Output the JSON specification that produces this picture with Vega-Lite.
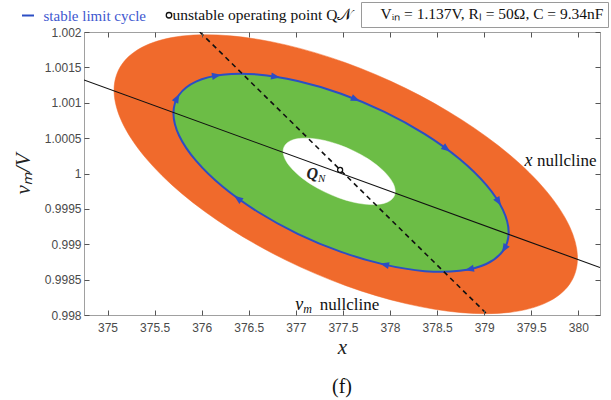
{
  "$schema": "https://vega.github.io/schema/vega-lite/v6.json",
  "width": 516,
  "height": 283,
  "autosize": "none",
  "padding": {"left": 84, "top": 32, "right": 11, "bottom": 85},
  "background": "white",
  "title": {"text": "(f)", "orient": "bottom", "font": "Liberation Serif", "fontSize": 20, "fontWeight": "normal", "color": "#111111", "offset": 20, "anchor": "middle"},
  "config": {"view": {"stroke": "#a0a0a0", "strokeWidth": 1}},
  "datasets": {
    "orange": [
      {"t": 0, "x": 379.991, "y": 0.998803}, {"t": 15, "x": 379.907, "y": 0.999251}, {"t": 30, "x": 379.661, "y": 0.99975},
      {"t": 45, "x": 379.27, "y": 1.000265}, {"t": 60, "x": 378.76, "y": 1.00076}, {"t": 75, "x": 378.167, "y": 1.001204},
      {"t": 90, "x": 377.53, "y": 1.001565}, {"t": 105, "x": 376.893, "y": 1.001818}, {"t": 120, "x": 376.3, "y": 1.001947},
      {"t": 135, "x": 375.79, "y": 1.001943}, {"t": 150, "x": 375.399, "y": 1.001805}, {"t": 165, "x": 375.153, "y": 1.001544},
      {"t": 180, "x": 375.069, "y": 1.001177}, {"t": 195, "x": 375.153, "y": 1.000729}, {"t": 210, "x": 375.399, "y": 1.00023},
      {"t": 225, "x": 375.79, "y": 0.999715}, {"t": 240, "x": 376.3, "y": 0.99922}, {"t": 255, "x": 376.893, "y": 0.998776},
      {"t": 270, "x": 377.53, "y": 0.998415}, {"t": 285, "x": 378.167, "y": 0.998162}, {"t": 300, "x": 378.76, "y": 0.998033},
      {"t": 315, "x": 379.27, "y": 0.998037}, {"t": 330, "x": 379.661, "y": 0.998175}, {"t": 345, "x": 379.907, "y": 0.998436}
    ],
    "green": [
      {"t": 0, "x": 379.26, "y": 0.999167}, {"t": 15, "x": 379.199, "y": 0.999486}, {"t": 30, "x": 379.022, "y": 0.999839},
      {"t": 45, "x": 378.739, "y": 1.000205}, {"t": 60, "x": 378.37, "y": 1.000557}, {"t": 75, "x": 377.941, "y": 1.000872},
      {"t": 90, "x": 377.48, "y": 1.001128}, {"t": 105, "x": 377.019, "y": 1.001308}, {"t": 120, "x": 376.59, "y": 1.0014},
      {"t": 135, "x": 376.221, "y": 1.001396}, {"t": 150, "x": 375.939, "y": 1.001299}, {"t": 165, "x": 375.761, "y": 1.001113},
      {"t": 180, "x": 375.7, "y": 1.000853}, {"t": 195, "x": 375.761, "y": 1.000534}, {"t": 210, "x": 375.939, "y": 1.000181},
      {"t": 225, "x": 376.221, "y": 0.999815}, {"t": 240, "x": 376.59, "y": 0.999463}, {"t": 255, "x": 377.019, "y": 0.999148},
      {"t": 270, "x": 377.48, "y": 0.998892}, {"t": 285, "x": 377.941, "y": 0.998712}, {"t": 300, "x": 378.37, "y": 0.99862},
      {"t": 315, "x": 378.739, "y": 0.998624}, {"t": 330, "x": 379.022, "y": 0.998721}, {"t": 345, "x": 379.199, "y": 0.998907}
    ],
    "white": [
      {"t": 0, "x": 378.055, "y": 0.999747}, {"t": 15, "x": 378.035, "y": 0.999854}, {"t": 30, "x": 377.975, "y": 0.999973},
      {"t": 45, "x": 377.881, "y": 1.000095}, {"t": 60, "x": 377.758, "y": 1.000214}, {"t": 75, "x": 377.614, "y": 1.000319},
      {"t": 90, "x": 377.46, "y": 1.000405}, {"t": 105, "x": 377.306, "y": 1.000466}, {"t": 120, "x": 377.163, "y": 1.000496},
      {"t": 135, "x": 377.039, "y": 1.000495}, {"t": 150, "x": 376.945, "y": 1.000463}, {"t": 165, "x": 376.885, "y": 1.0004},
      {"t": 180, "x": 376.865, "y": 1.000313}, {"t": 195, "x": 376.885, "y": 1.000206}, {"t": 210, "x": 376.945, "y": 1.000087},
      {"t": 225, "x": 377.039, "y": 0.999965}, {"t": 240, "x": 377.163, "y": 0.999846}, {"t": 255, "x": 377.306, "y": 0.999741},
      {"t": 270, "x": 377.46, "y": 0.999655}, {"t": 285, "x": 377.614, "y": 0.999594}, {"t": 300, "x": 377.758, "y": 0.999564},
      {"t": 315, "x": 377.881, "y": 0.999565}, {"t": 330, "x": 377.975, "y": 0.999597}, {"t": 345, "x": 378.035, "y": 0.99966}
    ],
    "arrows": [
      {"x": 375.739, "y": 1.001067, "dir": -62}, {"x": 376.157, "y": 1.001384, "dir": -10}, {"x": 376.785, "y": 1.001368, "dir": 9},
      {"x": 377.635, "y": 1.00105, "dir": 22}, {"x": 378.6, "y": 1.000349, "dir": 37}, {"x": 379.153, "y": 0.999601, "dir": 59},
      {"x": 379.214, "y": 0.998938, "dir": 121}, {"x": 378.843, "y": 0.998646, "dir": 168}, {"x": 377.941, "y": 0.998712, "dir": -167},
      {"x": 376.384, "y": 0.999648, "dir": -144}
    ],
    "xnull": [{"x": 374.75, "y": 1.001322}, {"x": 380.23, "y": 0.998671}],
    "vnull": [{"x": 375.98, "y": 1.002}, {"x": 379.04, "y": 0.998}],
    "qn": [{"x": 377.47, "y": 1.00005}],
    "labels": [
      {"name": "xnull", "x": 380.193, "y": 1.000177},
      {"name": "vnull", "x": 377.886, "y": 0.998146}
    ]
  },
  "encoding": {
    "x": {"field": "x", "type": "quantitative", "scale": {"domain": [374.75, 380.23], "nice": false, "zero": false}, "axis": null},
    "y": {"field": "y", "type": "quantitative", "scale": {"domain": [0.998, 1.002], "nice": false, "zero": false}, "axis": null}
  },
  "layer": [
    {
      "data": {"name": "orange"},
      "mark": {"type": "line", "interpolate": "cardinal-closed", "fill": "#f06a2c", "stroke": "#f06a2c", "strokeWidth": 0.5, "clip": true},
      "encoding": {
        "order": {"field": "t", "type": "quantitative"},
        "x": {"field": "x", "type": "quantitative", "scale": {"domain": [374.75, 380.23], "nice": false, "zero": false},
          "axis": {"orient": "bottom", "zindex": 1, "offset": -5, "values": [375, 375.5, 376, 376.5, 377, 377.5, 378, 378.5, 379, 379.5, 380], "format": "~f", "domain": false, "grid": false, "ticks": true, "tickSize": 5, "tickWidth": 1, "tickColor": "#555555", "tickOpacity": 1, "labelFont": "Liberation Sans", "labelFontSize": 12, "labelColor": "#4a4a4a", "labelPadding": 7, "title": "x", "titleFont": "Liberation Serif", "titleFontSize": 21, "titleFontStyle": "italic", "titleFontWeight": "normal", "titleColor": "#222222", "titlePadding": 3}},
        "y": {"field": "y", "type": "quantitative", "scale": {"domain": [0.998, 1.002], "nice": false, "zero": false},
          "axis": {"orient": "left", "zindex": 1, "offset": -5, "values": [0.998, 0.9985, 0.999, 0.9995, 1, 1.0005, 1.001, 1.0015, 1.002], "format": "~f", "domain": false, "grid": false, "ticks": true, "tickSize": 5, "tickWidth": 1, "tickColor": "#555555", "tickOpacity": 1, "labelFont": "Liberation Sans", "labelFontSize": 12, "labelColor": "#4a4a4a", "labelPadding": 3, "title": "vₘ/V", "titleFont": "Liberation Serif", "titleFontSize": 21, "titleFontStyle": "italic", "titleFontWeight": "normal", "titleColor": "#222222", "titlePadding": 11}}
      }
    },
    {
      "data": {"name": "green"},
      "mark": {"type": "line", "interpolate": "cardinal-closed", "fill": "#6cbd46", "stroke": "#6cbd46", "strokeWidth": 0.5},
      "encoding": {"order": {"field": "t", "type": "quantitative"}}
    },
    {
      "data": {"name": "white"},
      "mark": {"type": "line", "interpolate": "cardinal-closed", "fill": "#ffffff", "stroke": "#ffffff", "strokeWidth": 0.5},
      "encoding": {
        "order": {"field": "t", "type": "quantitative"},
        "strokeDash": {"datum": "Vᵢₙ = 1.137V, Rₗ = 50Ω, C = 9.34nF", "type": "nominal", "scale": {"range": [[1, 0]]},
          "legend": {"orient": "none", "legendX": 277, "legendY": -30, "title": null, "symbolSize": 0, "symbolOpacity": 0, "symbolStrokeWidth": 0, "labelOffset": 0, "labelFont": "Liberation Serif", "labelFontSize": 15.5, "labelLimit": 400, "labelColor": "#111111", "strokeColor": "#9a9a9a", "fillColor": "#ffffff", "padding": 4}}
      }
    },
    {
      "data": {"name": "green"},
      "mark": {"type": "line", "interpolate": "cardinal-closed", "strokeWidth": 2},
      "encoding": {
        "order": {"field": "t", "type": "quantitative"},
        "color": {"datum": "stable limit cycle", "type": "nominal",
          "scale": {"domain": ["stable limit cycle", "unstable operating point Q𝒩"], "range": ["#2c4ec4", "#111111"]},
          "legend": {"orient": "none", "direction": "horizontal", "legendX": -68, "legendY": -30, "title": null, "symbolType": "stroke", "symbolSize": 144, "symbolStrokeWidth": 1.5, "labelFont": "Liberation Serif", "labelFontSize": 15, "labelColor": "#111111", "labelOffset": 12, "labelLimit": 300, "columnPadding": 0, "padding": 0,
            "encode": {
              "symbols": {"update": {
                "shape": {"signal": "datum.value === 'stable limit cycle' ? 'stroke' : 'circle'"},
                "size": {"signal": "datum.value === 'stable limit cycle' ? 144 : 30"},
                "x": {"signal": "datum.value === 'stable limit cycle' ? 12 : 23"},
                "y": {"value": 13},
                "fill": {"signal": "datum.value === 'stable limit cycle' ? 'transparent' : '#ffffff'"},
                "stroke": {"signal": "datum.value === 'stable limit cycle' ? '#2c4ec4' : '#111111'"},
                "strokeWidth": {"signal": "datum.value === 'stable limit cycle' ? 2 : 1.3"},
                "opacity": {"value": 1}}},
              "labels": {"update": {
                "font": {"value": "Liberation Serif"},
                "fill": {"signal": "datum.value === 'stable limit cycle' ? '#4058cf' : '#111111'"},
                "fontSize": {"signal": "datum.value === 'stable limit cycle' ? 15 : 15.5"},
                "dx": {"signal": "datum.value === 'stable limit cycle' ? 0 : -1"},
                "y": {"value": 13}}}}}}
      }
    },
    {
      "data": {"name": "arrows"},
      "mark": {"type": "point", "shape": "M-1,-0.8L1,0L-1,0.8Z", "filled": true, "color": "#2c4ec4", "size": 80, "opacity": 1},
      "encoding": {"angle": {"field": "dir", "type": "quantitative", "scale": null}}
    },
    {
      "data": {"name": "xnull"},
      "mark": {"type": "line", "color": "#111111", "strokeWidth": 1.1, "clip": true},
      "encoding": {
        "x": {"field": "x", "type": "quantitative", "scale": {"domain": [374.75, 380.23], "nice": false, "zero": false},
          "axis": {"orient": "top", "zindex": 1, "offset": -5, "values": [375, 375.5, 376, 376.5, 377, 377.5, 378, 378.5, 379, 379.5, 380], "labels": false, "domain": false, "grid": false, "ticks": true, "tickSize": 5, "tickWidth": 1, "tickColor": "#555555", "tickOpacity": 1, "title": null}},
        "y": {"field": "y", "type": "quantitative", "scale": {"domain": [0.998, 1.002], "nice": false, "zero": false},
          "axis": {"orient": "right", "zindex": 1, "offset": -5, "values": [0.998, 0.9985, 0.999, 0.9995, 1, 1.0005, 1.001, 1.0015, 1.002], "labels": false, "domain": false, "grid": false, "ticks": true, "tickSize": 5, "tickWidth": 1, "tickColor": "#555555", "tickOpacity": 1, "title": null}}
      }
    },
    {
      "data": {"name": "vnull"},
      "mark": {"type": "line", "color": "#111111", "strokeWidth": 1.6, "strokeDash": [5, 4], "clip": true},
      "encoding": {}
    },
    {
      "data": {"name": "qn"},
      "mark": {"type": "point", "filled": false, "fill": "#ffffff", "size": 25, "strokeWidth": 1.3, "opacity": 1},
      "encoding": {
        "color": {"datum": "unstable operating point Q𝒩", "type": "nominal"}
      }
    },
    {
      "data": {"name": "qn"},
      "mark": {"type": "text", "text": "Q", "align": "right", "baseline": "middle", "dx": -22, "dy": 4, "font": "Liberation Serif", "fontSize": 16, "fontStyle": "italic", "fontWeight": "bold", "color": "#222222"}
    },
    {
      "data": {"name": "qn"},
      "mark": {"type": "text", "text": "N", "align": "left", "baseline": "middle", "dx": -22, "dy": 9, "font": "Liberation Serif", "fontSize": 11, "fontStyle": "italic", "color": "#222222"}
    },
    {
      "data": {"name": "labels"},
      "transform": [{"filter": "datum.name === 'xnull'"}],
      "mark": {"type": "text", "text": "nullcline", "align": "right", "baseline": "middle", "font": "Liberation Serif", "fontSize": 17, "color": "#111111"}
    },
    {
      "data": {"name": "labels"},
      "transform": [{"filter": "datum.name === 'xnull'"}],
      "mark": {"type": "text", "text": "x", "align": "right", "baseline": "middle", "dx": -64, "font": "Liberation Serif", "fontSize": 18, "fontStyle": "italic", "color": "#111111"}
    },
    {
      "data": {"name": "labels"},
      "transform": [{"filter": "datum.name === 'vnull'"}],
      "mark": {"type": "text", "text": "nullcline", "align": "right", "baseline": "middle", "font": "Liberation Serif", "fontSize": 17, "color": "#111111"}
    },
    {
      "data": {"name": "labels"},
      "transform": [{"filter": "datum.name === 'vnull'"}],
      "mark": {"type": "text", "text": "v", "align": "left", "baseline": "middle", "dx": -84, "font": "Liberation Serif", "fontSize": 18, "fontStyle": "italic", "color": "#111111"}
    },
    {
      "data": {"name": "labels"},
      "transform": [{"filter": "datum.name === 'vnull'"}],
      "mark": {"type": "text", "text": "m", "align": "left", "baseline": "middle", "dx": -76, "dy": 4, "font": "Liberation Serif", "fontSize": 12, "fontStyle": "italic", "color": "#111111"}
    }
  ],
  "resolve": {"axis": {"x": "independent", "y": "independent"}}
}
